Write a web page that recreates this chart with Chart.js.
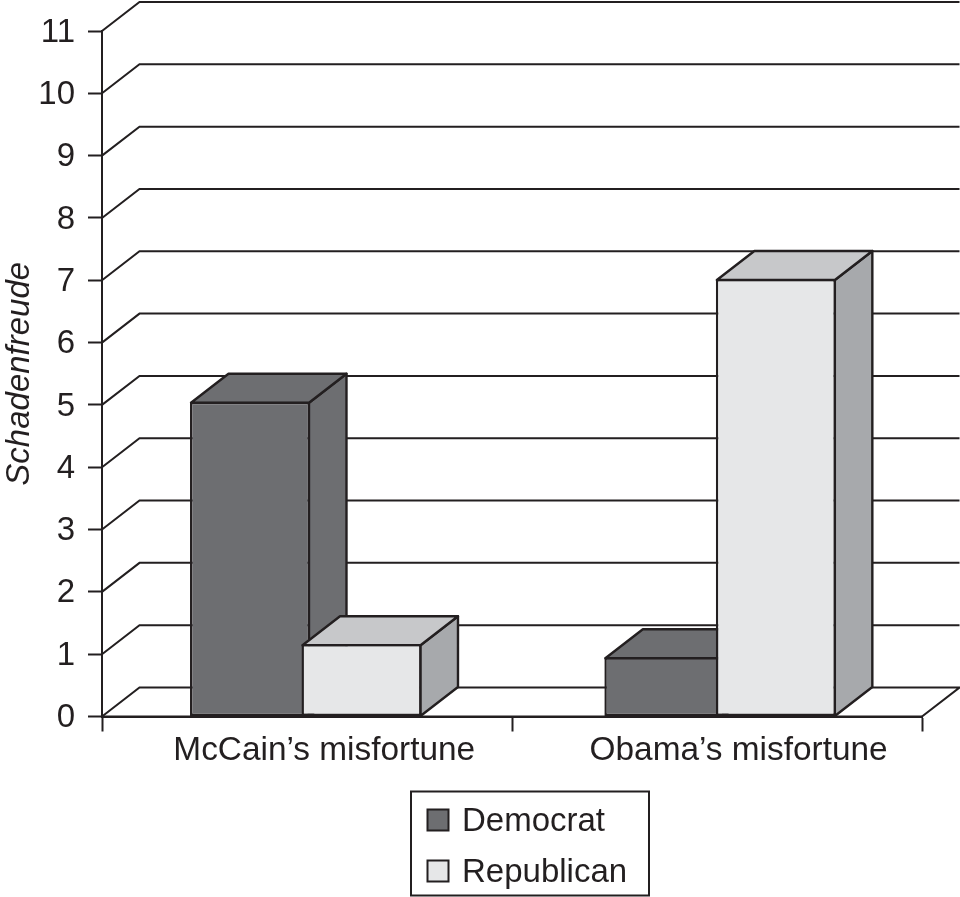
<!DOCTYPE html>
<html>
<head>
<meta charset="utf-8">
<title>Schadenfreude</title>
<script src="https://cdn.jsdelivr.net/npm/chart.js@4"></script>
<style>
    html, body { margin: 0; padding: 0; background: #fff; }
    canvas { display: block; }
</style>
</head>
<body>
<canvas id="schadenChart" width="960" height="897"></canvas>
<script>
// --- Data ---
const categories = ['McCain\u2019s misfortune', 'Obama\u2019s misfortune'];
const democrat = [5.05, 0.95];
const republican = [1.16, 7.02];
const yTicks = [0, 1, 2, 3, 4, 5, 6, 7, 8, 9, 10, 11];

// --- Look ---
const ink = '#231f20';
const fontFamily = '"Liberation Sans", Arial, sans-serif';
const depthX = 37.5, depthY = 29;   // the fake 3D depth
const groupShift = [-1.25, 3.1];    // groups sit slightly off the category centres
const labelShift = 18.5;            // category labels sit right of the groups
const faces = {
    Democrat: { front: '#6d6e71', top: '#6d6e71', side: '#6d6e71' },
    Republican: { front: '#e6e7e8', top: '#c7c8ca', side: '#a7a9ac' }
};

function poly(ctx, pts, fill) {
    ctx.beginPath();
    pts.forEach((p, i) => i ? ctx.lineTo(p[0], p[1]) : ctx.moveTo(p[0], p[1]));
    ctx.closePath();
    ctx.fillStyle = fill;
    ctx.fill();
    ctx.stroke();
}

const fake3d = {
    id: 'fake3d',
    afterDatasetsUpdate(chart) {
        chart.data.datasets.forEach((ds, d) => {
            chart.getDatasetMeta(d).data.forEach((bar, i) => { bar.x += groupShift[i]; });
        });
    },
    // wall and floor lines behind the bars
    beforeDatasetsDraw(chart) {
        const ctx = chart.ctx, y = chart.scales.y, area = chart.chartArea;
        ctx.save();
        ctx.strokeStyle = ink;
        ctx.lineWidth = 2;
        yTicks.forEach(t => {
            const py = y.getPixelForValue(t);
            ctx.beginPath();
            ctx.moveTo(area.left, py);
            ctx.lineTo(area.left + depthX, py - depthY);
            ctx.lineTo(area.right + depthX, py - depthY);
            if (t === 0) ctx.lineTo(area.right, py);
            ctx.stroke();
        });
        ctx.restore();
    },
    // native draw is cancelled so Republican lands on top of Democrat
    beforeDatasetDraw() {
        return false;
    },
    afterDatasetsDraw(chart) {
        const ctx = chart.ctx;
        ctx.save();
        ctx.strokeStyle = ink;
        ctx.lineWidth = 2.4;
        ctx.lineJoin = 'round';
        chart.data.datasets.forEach((ds, d) => {
            const f = faces[ds.label];
            chart.getDatasetMeta(d).data.forEach(bar => {
                const l = bar.x - bar.width / 2 + 1, r = bar.x + bar.width / 2 - 1;
                const t = bar.y + 1, b = bar.base;
                poly(ctx, [[r, t], [r + depthX, t - depthY], [r + depthX, b - depthY], [r, b]], f.side);
                poly(ctx, [[l, t], [l + depthX, t - depthY], [r + depthX, t - depthY], [r, t]], f.top);
                bar.draw(ctx);
            });
        });
        // axis line back over the bar feet
        const x = chart.scales.x;
        ctx.lineWidth = 2;
        ctx.beginPath();
        ctx.moveTo(x.left, x.top);
        ctx.lineTo(x.right, x.top);
        ctx.stroke();
        // category labels
        ctx.fillStyle = ink;
        ctx.font = '33.4px ' + fontFamily;
        ctx.textAlign = 'center';
        ctx.textBaseline = 'alphabetic';
        categories.forEach((c, i) => {
            ctx.fillText(c, x.getPixelForTick(i) + groupShift[i] + labelShift, 760);
        });
        ctx.restore();
    },
    // boxed legend stacked in two rows
    afterDraw(chart) {
        const ctx = chart.ctx;
        ctx.save();
        ctx.strokeStyle = ink;
        ctx.lineWidth = 2;
        ctx.strokeRect(411, 791.5, 238, 104);
        ctx.font = '33px ' + fontFamily;
        ctx.textAlign = 'left';
        ctx.textBaseline = 'alphabetic';
        chart.data.datasets.forEach((ds, d) => {
            const top = 809.5 + d * 51;
            ctx.fillStyle = faces[ds.label].front;
            ctx.fillRect(427.5, top, 21, 21);
            ctx.strokeRect(427.5, top, 21, 21);
            ctx.fillStyle = ink;
            ctx.fillText(ds.label, 462, top + 21);
        });
        ctx.restore();
    }
};

const ctx = document.getElementById('schadenChart').getContext('2d');
new Chart(ctx, {
    type: 'bar',
    data: {
        labels: categories,
        datasets: [
            { label: 'Democrat', data: democrat, backgroundColor: faces.Democrat.front },
            { label: 'Republican', data: republican, backgroundColor: faces.Republican.front }
        ]
    },
    plugins: [fake3d],
    options: {
        responsive: false,
        animation: false,
        layout: { padding: { left: 0, right: 38, top: 31, bottom: 120.5 } },
        datasets: {
            bar: {
                categoryPercentage: 0.5439,
                barPercentage: 1.076,
                borderColor: ink,
                borderWidth: 2.4,
                borderSkipped: false
            }
        },
        plugins: { legend: { display: false }, tooltip: { enabled: false } },
        scales: {
            x: {
                afterFit(scale) { scale.height = 60; },
                ticks: { display: false },
                grid: { drawOnChartArea: false, tickLength: 15, tickWidth: 2, tickColor: ink, offset: true },
                border: { color: ink, width: 2 }
            },
            y: {
                min: 0,
                max: 11,
                afterFit(scale) {
                    scale.width = 102;
                    scale.paddingTop = 0;
                    scale.paddingBottom = 0;
                },
                afterBuildTicks(scale) { scale.ticks = yTicks.map(v => ({ value: v })); },
                ticks: { color: ink, padding: 13, labelOffset: 1.5, font: { family: fontFamily, size: 33 } },
                grid: { drawOnChartArea: false, tickLength: 14, tickWidth: 2, tickColor: ink },
                border: { color: ink, width: 2 },
                title: {
                    display: true,
                    text: 'Schadenfreude',
                    color: ink,
                    padding: 0,
                    font: { family: fontFamily, size: 33, style: 'italic', weight: 'normal' }
                }
            }
        }
    }
});
</script>
</body>
</html>
